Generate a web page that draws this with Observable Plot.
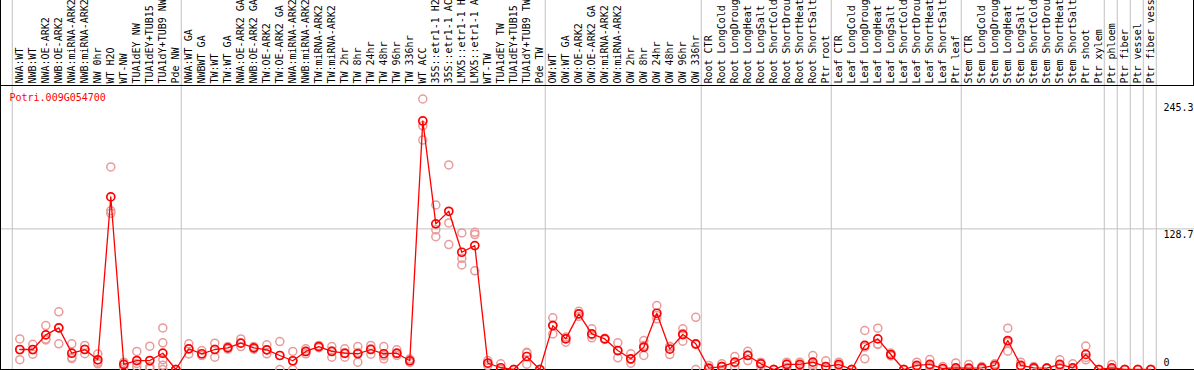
<!DOCTYPE html>
<html><head><meta charset="utf-8">
<script src="https://cdn.jsdelivr.net/npm/d3@7"></script>
<script src="https://cdn.jsdelivr.net/npm/@observablehq/plot@0.6"></script>
<style>
html,body{margin:0;padding:0;background:#fff;}
#chart{width:1194px;height:370px;overflow:hidden;}
#chart svg{display:block;}
</style></head><body><div id="chart"></div>
<script>
const geneId = "Potri.009G054700";
const categories = [
  "NWA:WT","NWB:WT","NWA:OE-ARK2","NWB:OE-ARK2","NWA:miRNA-ARK2","NWB:miRNA-ARK2","NW 0hr","WT H2O","WT-NW","TUA1dEY NW","TUA1dEY+TUB15","TUA1dY+TUB9 NW","Pde NW",
  "NWA:WT GA","NWBWT GA","TW:WT","TW:WT GA","NWA:OE-ARK2 GA","NWB:OE-ARK2 GA","TW:OE-ARK2","TW:OE-ARK2 GA","NWA:miRNA-ARK2","NWB:miRNA-ARK2","TW:miRNA-ARK2","TW:miRNA-ARK2","TW 2hr","TW 8hr","TW 24hr","TW 48hr","TW 96hr","TW 336hr","WT ACC","35S::etr1-1 H2","35S::etr1-1 AC","LMX5::etr1-1 H","LMX5::etr1-1 A","WT-TW","TUA1dEY TW","TUA1dEY+TUB15","TUA1dY+TUB9 TW","Pde TW",
  "OW:WT","OW:WT GA","OW:OE-ARK2","OW:OE-ARK2 GA","OW:miRNA-ARK2","OW:miRNA-ARK2","OW 2hr","OW 8hr","OW 24hr","OW 48hr","OW 96hr","OW 336hr",
  "Root CTR","Root LongCold","Root LongDroug","Root LongHeat","Root LongSalt","Root ShortCold","Root ShortDrou","Root ShortHeat","Root ShortSalt","Ptr root",
  "Leaf CTR","Leaf LongCold","Leaf LongDroug","Leaf LongHeat","Leaf LongSalt","Leaf ShortCold","Leaf ShortDrou","Leaf ShortHeat","Leaf ShortSalt","Ptr leaf",
  "Stem CTR","Stem LongCold","Stem LongDroug","Stem LongHeat","Stem LongSalt","Stem ShortCold","Stem ShortDrou","Stem ShortHeat","Stem ShortSalt","Ptr shoot",
  "Ptr xylem","Ptr phloem","Ptr fiber","Ptr vessel","Ptr fiber vess"
];
const means = [
  18.3,18.3,31.7,38.1,14.9,18.3,8.9,158,4.6,8.2,8.2,14.9,0,
  18.9,14.4,18.3,19.8,24.1,19.8,18,12.8,8,16.5,21,16.5,14.9,14.4,18.3,14.4,14.9,8,227.5,133.3,144.8,107.3,113.4,5.8,1.6,0,11.9,0,
  40.2,28,50.9,32.6,28,17.4,9.8,20.4,51.5,18.6,32,23.5,
  1.2,2.7,6.7,12.8,5.2,0,4.6,4.6,6.7,2.7,
  4.6,0,22,28,13.7,0,3.7,4.6,0.9,1.5,
  1.2,1.5,3.7,26.5,3.7,1.5,1.2,4.6,1.5,13.8,
  0,1.5,0,0,0
];
const replicates = [
  [28,18,9],[23,14,18],[40.2,28,27],[52.8,38,23.5],[23.5,11,10],[22,14.5,18.5],[14.3,6.7,5.2],[185.4,145.4,143],[6.7,5,2],[16.5,5.5,2.5],[21.3,2.5,0.8],[38,24.4,9,4,0],[0,0,0],
  [23.5,19,14.3],[17.4,12.8,13],[24.1,18.5,11.3],[21,19.8,18.6],[28,24.1,21],[21,19.8,18.6],[22.6,18,14.4],[25.6,12.8,0],[16.5,7.5,0],[18.9,16.5,14.4],[22,21,20],[21,17,11.3],[18.9,14.5,11.3],[21,15.5,6.7],[22,18.9,14],[21,12.5,9.8],[18,14.4,12.8],[9.5,8,6.5],[247.6,223,210],[150.6,127.8,121.6],[187.2,134.2,114.3],[125,101.8,95.7],[125.6,123.5,90.3],[8.2,5.5,3.7],[5.2,0,0],[0,0,0],[15.8,15,4.8],[0,0,0],
  [47.3,40.7,32.6],[29.5,29.5,25],[53.3,50.9,48.5],[37.2,31.6,29],[28.5,28,27.5],[24.4,17,10.7],[14.4,9.2,5.8],[26.5,22,12.8],[58.5,49.5,46.4],[21,21,13.7],[37.2,32.9,25.9],[47.8,22.7,0],
  [3.7,0,0],[5.2,3,0],[11.9,6,2.1],[16.7,13.5,8.2],[6.7,6.2,2.7],[0,0,0],[6.7,5,2.1],[6.7,4.4,2.7],[12.8,4.6,2.7],[8,0,0],
  [6.7,4,3],[0,0,0],[35.7,20.5,9.8],[37.8,23.3,22.9],[15,13.7,12.4],[0,0,0],[6.7,3,1.5],[9.1,3.2,1.5],[2.7,0,0],[6,0,0],
  [4.6,0,0],[2.7,1.5,0],[5.2,3.7,2],[37.8,25,16.7],[6.7,3,1.5],[2.7,1.5,0.5],[1.5,1.2,0.9],[8.9,3.4,1.5],[5.2,0,0],[21.5,11,8.9],
  [0,0,0],[4.6,0,0],[0,0,0],[0,0,0],[0,0,0]
];
// index of the last category of each group (group separators drawn right after)
const groupEnds = [-1, 12, 40, 52, 62, 72, 83, 84, 85, 86, 87];
const yTicks = [245.3, 128.7, 0];
const yMax = 245.3;

const meanData = categories.map((c, i) => ({i, label: c, v: means[i]}));
const repData = replicates.flatMap((r, i) => r.map(v => ({i, v})));

const plot = Plot.plot({
  width: 1194, height: 370,
  marginTop: 101, marginBottom: 1, marginLeft: 0, marginRight: 0,
  x: {type: "linear", domain: [0, categories.length - 1], range: [19.3, 1150.3], axis: null},
  y: {domain: [0, yMax], range: [369, 101], axis: null},
  style: {fontFamily: "'DejaVu Sans Mono', monospace", fontSize: "10px", background: "white", color: "black"},
  marks: [
    Plot.ruleY([yTicks[1]], {stroke: "#c0c0c0", strokeWidth: 1}),
    Plot.ruleX(groupEnds, {x: d => d + 0.42, stroke: "#c0c0c0", strokeWidth: 1, insetTop: -101, insetBottom: 0}),
    Plot.ruleY([0], {stroke: "black", strokeWidth: 1}),
    Plot.text(meanData, {x: "i", text: "label", frameAnchor: "top", dy: -18, rotate: -90, textAnchor: "start", lineAnchor: "middle", fill: "black"}),
    Plot.dot(repData, {x: "i", y: "v", r: 4, stroke: "#e99a9a", strokeWidth: 1.5, fill: "none"}),
    Plot.line(meanData, {x: "i", y: "v", stroke: "red", strokeWidth: 1.3}),
    Plot.dot(meanData, {x: "i", y: "v", r: 4, stroke: "red", strokeWidth: 1.7, fill: "none"}),
    Plot.text([geneId], {text: d => d, frameAnchor: "top-left", dx: 9, dy: -4, fill: "red", textAnchor: "start", lineAnchor: "middle"}),
    Plot.text(yTicks.filter(d => d > 0), {y: d => d, text: d => String(d), frameAnchor: "right", dx: -31, dy: 2, textAnchor: "start", lineAnchor: "top", fill: "black"}),
    Plot.text(yTicks.filter(d => d === 0), {y: d => d, text: d => String(d), frameAnchor: "right", dx: -31, dy: -4, textAnchor: "start", lineAnchor: "bottom", fill: "black"})
  ]
});

const svg = d3.select(plot);
svg.append("line").attr("x1", 0).attr("x2", 1194).attr("y1", 85.5).attr("y2", 85.5).attr("stroke", "black").attr("shape-rendering", "crispEdges");
svg.append("line").attr("x1", 0.5).attr("x2", 0.5).attr("y1", 0).attr("y2", 370).attr("stroke", "black").attr("shape-rendering", "crispEdges");
svg.append("line").attr("x1", 1193.5).attr("x2", 1193.5).attr("y1", 0).attr("y2", 85.5).attr("stroke", "black").attr("shape-rendering", "crispEdges");
document.getElementById("chart").appendChild(plot);
</script></body></html>
